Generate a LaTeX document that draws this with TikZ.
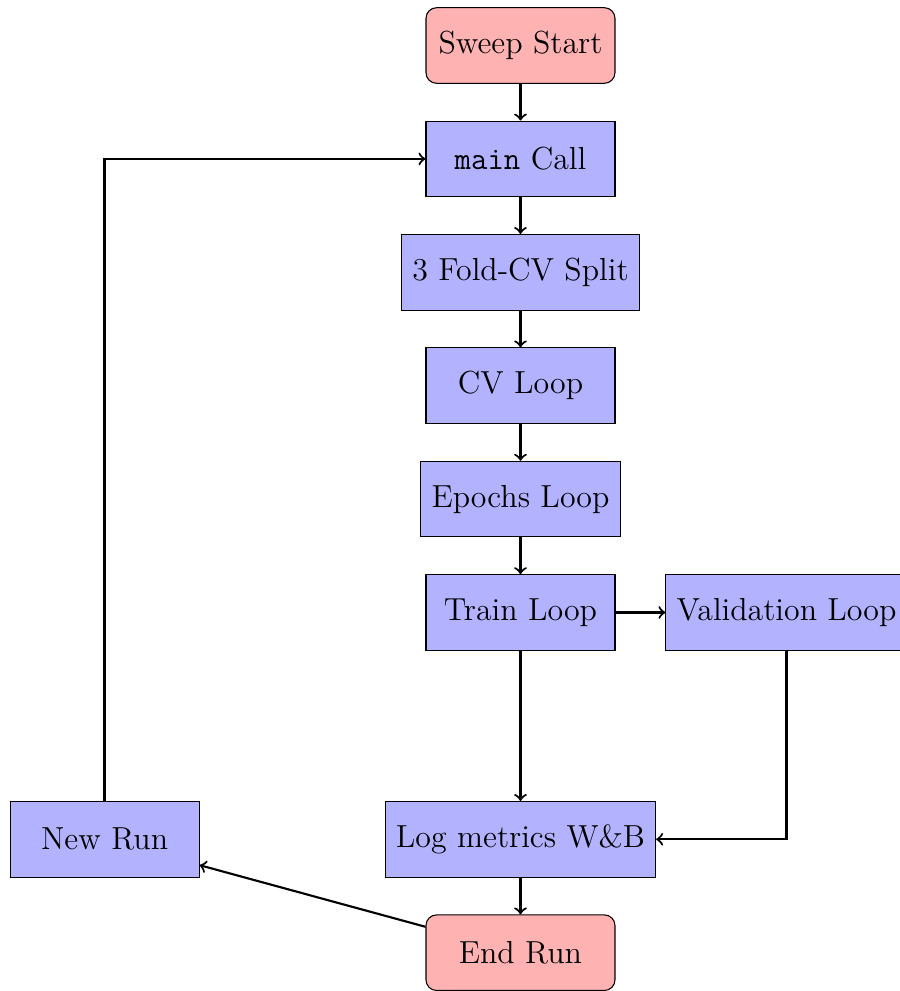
\documentclass[tikz,border=0pt,12pt]{standalone}
\usepackage{tikz}
\usetikzlibrary{arrows,positioning}

\tikzset{
  startstop/.style={rectangle, rounded corners, minimum width=2.5cm, minimum height=1cm, text centered, draw=black, fill=red!30},
  process/.style={rectangle, minimum width=2.5cm, minimum height=1cm, text centered, draw=black, fill=blue!30},
  flowarrow/.style={thick,->}
}

\begin{document}
\begin{tikzpicture}[node distance=0.5cm-0.4pt]
	\useasboundingbox (-6.885,0.602) rectangle (5.007,-12.507);
	\node (sweepstart) [startstop] {Sweep Start};
	\node (maincall) [process, below=of sweepstart] {\texttt{main} Call};
	\node (cvsplit) [process, below=of maincall] {3 Fold-CV Split};
	\node (cvloop) [process, below=of cvsplit] {CV Loop};
	\node (epochs) [process, below=of cvloop] {Epochs Loop};
	\node (train) [process, below=of epochs] {Train Loop};
	\node (valid) [process, right=0.66cm of train] {Validation Loop};
	\node (logwandb) [process, below=2cm-0.4pt of train] {Log metrics W\&B};
	\node (endrun) [startstop, below=of logwandb] {End Run};
	\node (newrun) [process, left=2.45cm of logwandb] {New Run};

	\draw [flowarrow] (sweepstart) -- (maincall);
	\draw [flowarrow] (maincall) -- (cvsplit);
	\draw [flowarrow] (cvsplit) -- (cvloop);
	\draw [flowarrow] (cvloop) -- (epochs);
	\draw [flowarrow] (epochs) -- (train);
	\draw [flowarrow] (train) -- (valid);
	\draw [flowarrow] (train) -- (logwandb);
	\draw [flowarrow] (valid) |- (logwandb);
	\draw [flowarrow] (logwandb) -- (endrun);
	\draw [flowarrow] (endrun) -- (newrun);
	\draw [flowarrow] (newrun) |- (maincall);
\end{tikzpicture}
\end{document}
